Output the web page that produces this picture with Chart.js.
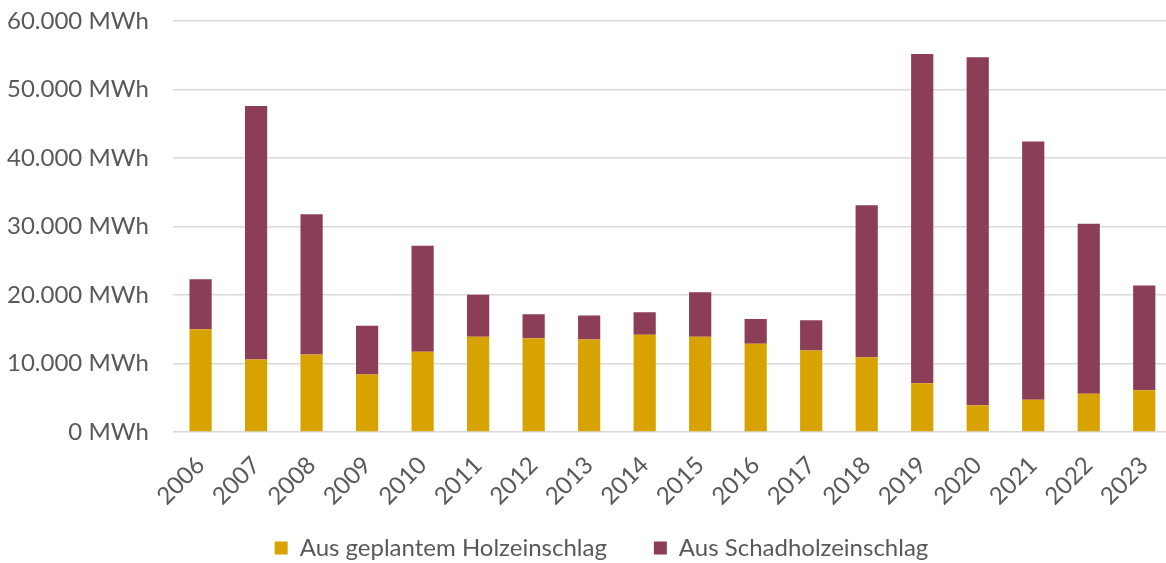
<!DOCTYPE html>
<html>
<head>
<meta charset="utf-8">
<script src="https://cdn.jsdelivr.net/npm/chart.js@4.4.1/dist/chart.umd.min.js"></script>
<style>
  html, body { margin: 0; padding: 0; background: #fff; overflow: hidden; }
  #wrap { width: 1172px; height: 563px; }
</style>
</head>
<body>
<div id="wrap"><canvas id="c" width="1172" height="563"></canvas></div>
<script>
const years = ['2006','2007','2008','2009','2010','2011','2012','2013','2014','2015','2016','2017','2018','2019','2020','2021','2022','2023'];
const geplant = [15000, 10600, 11300, 8400, 11700, 13900, 13700, 13500, 14200, 13900, 12900, 11900, 10900, 7100, 3900, 4700, 5600, 6100];
const schadholz = [7300, 37000, 20500, 7100, 15500, 6150, 3500, 3500, 3300, 6500, 3600, 4400, 22200, 48100, 50800, 37700, 24800, 15300];
const yTicks = [0, 10000, 20000, 30000, 40000, 50000, 60000];
const seriesNames = ['Aus geplantem Holzeinschlag', 'Aus Schadholzeinschlag'];

const fmt = v => new Intl.NumberFormat('de-DE').format(v) + ' MWh';
const FONT = 'Lato';
const TXT = '#595959';

const legendTweak = {
  id: 'legendTweak',
  beforeInit(chart) {
    const origFit = chart.legend.fit;
    chart.legend.fit = function () {
      origFit.call(this);
      this.height = 51;
    };
  },
  afterLayout(chart) {
    const L = chart.legend;
    L.left += 24; L.right += 24;
    L.top -= 23;
  }
};

new Chart(document.getElementById('c'), {
  type: 'bar',
  data: {
    labels: years,
    datasets: [
      { label: seriesNames[0], data: geplant, backgroundColor: '#D8A300', barPercentage: 0.4, categoryPercentage: 1.0 },
      { label: seriesNames[1], data: schadholz, backgroundColor: '#8B3E55', barPercentage: 0.4, categoryPercentage: 1.0 }
    ]
  },
  plugins: [legendTweak],
  options: {
    responsive: false,
    animation: false,
    layout: { padding: { left: -17, top: 21, right: 0, bottom: 0 } },
    plugins: {
      tooltip: { enabled: false },
      legend: {
        position: 'bottom',
        labels: {
          font: { family: FONT, size: 24 },
          color: TXT,
          boxWidth: 13,
          boxHeight: 13,
          padding: 47
        }
      }
    },
    scales: {
      x: {
        stacked: true,
        grid: { display: false },
        border: { display: false },
        afterFit: s => { s.height = 80; s.paddingLeft = 0; s.paddingRight = 0; },
        ticks: {
          font: { family: FONT, size: 24 },
          color: TXT,
          maxRotation: 45,
          minRotation: 45,
          padding: 11
        }
      },
      y: {
        stacked: true,
        min: 0,
        max: 60000,
        afterBuildTicks: axis => { axis.ticks = yTicks.map(v => ({ value: v })); },
        afterFit: s => { s.paddingTop = 0; s.paddingBottom = 0; },
        grid: { color: '#d9d9d9', lineWidth: 1.5, drawTicks: false },
        border: { display: false },
        ticks: {
          font: { family: FONT, size: 24 },
          color: TXT,
          padding: 24,
          callback: v => fmt(v)
        }
      }
    }
  }
});
</script>
</body>
</html>
